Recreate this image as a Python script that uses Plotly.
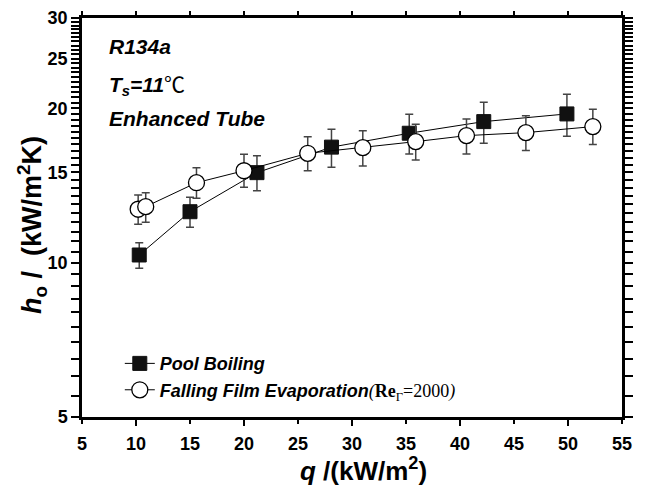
import numpy as np
import plotly.graph_objects as go

# ---- data ----
pool_q = [10.3, 15.0, 21.2, 28.1, 35.3, 42.2, 49.9]
pool_h = [10.35, 12.57, 14.98, 16.8, 17.88, 18.84, 19.5]
pool_err_plus = [0.59, 0.84, 1.19, 1.4, 1.59, 1.71, 1.8]
pool_err_minus = [0.6, 0.85, 1.17, 1.45, 1.59, 1.75, 1.86]

film_q = [10.2, 10.9, 15.6, 20.0, 25.9, 31.0, 35.9, 40.6, 46.1, 52.3]
film_h = [12.71, 12.86, 14.32, 15.11, 16.34, 16.76, 17.22, 17.69, 17.93, 18.42]
film_err_plus = [0.84, 0.83, 1.0, 1.16, 1.27, 1.33, 1.4, 1.37, 1.42, 1.5]
film_err_minus = [0.83, 0.87, 0.97, 1.08, 1.23, 1.32, 1.36, 1.4, 1.39, 1.43]

x_ticks = [5, 10, 15, 20, 25, 30, 35, 40, 45, 50, 55]
x_long_ticks = [10, 20, 30, 40, 50]
y_ticks = [5, 10, 15, 20, 25, 30]

FONT = "Arial, 'Liberation Sans', sans-serif"
ERRC = "#444444"

fig = go.Figure()

fig.add_trace(go.Scatter(
    x=pool_q, y=pool_h, mode="lines+markers",
    name="<b><i>Pool Boiling</i></b>",
    line=dict(color="black", width=1),
    marker=dict(symbol="square", size=14, color="#111111",
                line=dict(color="#111111", width=1)),
    error_y=dict(type="data", symmetric=False, array=pool_err_plus,
                 arrayminus=pool_err_minus, color=ERRC, thickness=1.5, width=4),
))

fig.add_trace(go.Scatter(
    x=film_q, y=film_h, mode="lines+markers",
    name=("<b><i>Falling Film Evaporation</i></b>"
          "<span style=\"font-family:'Liberation Serif',serif\"><i>(</i><b>Re</b>"
          "<sub>Γ</sub>=2000<i>)</i></span>"),
    line=dict(color="black", width=1),
    marker=dict(symbol="circle", size=16, color="white",
                line=dict(color="black", width=1.3)),
    error_y=dict(type="data", symmetric=False, array=film_err_plus,
                 arrayminus=film_err_minus, color=ERRC, thickness=1.5, width=4),
))

# invisible trace that anchors the long-tick overlay axis
fig.add_trace(go.Scatter(x=[x_ticks[0]], y=[y_ticks[0]], xaxis="x2",
                         mode="markers", marker=dict(opacity=0),
                         showlegend=False, hoverinfo="skip"))

minor_y = [v for v in np.arange(5.5, 30.0, 0.5) if v not in y_ticks]

fig.update_layout(
    width=648, height=490,
    margin=dict(l=82, r=26, t=18, b=73, autoexpand=False),
    paper_bgcolor="white", plot_bgcolor="white",
    font=dict(family=FONT, color="black"),
    showlegend=True,
    legend=dict(x=0.07, y=0.18, xanchor="left", yanchor="top",
                bgcolor="rgba(0,0,0,0)", font=dict(size=18, family=FONT),
                tracegroupgap=0, itemwidth=30),
    xaxis=dict(
        range=[5, 55], tickmode="array", tickvals=x_ticks,
        ticks="outside", ticklen=4, tickwidth=2, tickcolor="black",
        ticklabelstandoff=5, automargin=False,
        showline=True, linewidth=2.5, linecolor="black", mirror="allticks",
        showgrid=False, zeroline=False,
        tickfont=dict(size=18, family=FONT, weight="bold"),
    ),
    xaxis2=dict(
        range=[5, 55], overlaying="x", side="bottom", tickmode="array",
        tickvals=x_long_ticks, ticks="outside", ticklen=8, tickwidth=2,
        tickcolor="black", showticklabels=False, showline=False,
        showgrid=False, zeroline=False, automargin=False,
    ),
    yaxis=dict(
        type="log", range=[np.log10(5), np.log10(30)],
        tickmode="array", tickvals=y_ticks, ticktext=[str(v) for v in y_ticks],
        ticks="outside", ticklen=8, tickwidth=2, tickcolor="black",
        minor=dict(tickmode="array", tickvals=minor_y, ticks="outside",
                   ticklen=4, tickwidth=1.5, tickcolor="black"),
        showline=True, linewidth=2.5, linecolor="black", mirror="allticks",
        showgrid=False, zeroline=False, automargin=False,
        tickfont=dict(size=18, family=FONT, weight="bold"),
    ),
)

# axis titles as annotations
fig.add_annotation(xref="paper", yref="paper", x=-0.0926, y=0.481,
                   xanchor="center", yanchor="middle", showarrow=False,
                   textangle=-90,
                   text="<b><i>h</i><sub>o</sub> /&nbsp;&nbsp;(kW/m<sup>2</sup>K)</b>",
                   font=dict(size=27, family=FONT, color="black"))
fig.add_annotation(xref="paper", yref="paper", x=0.522, y=-0.131,
                   xanchor="center", yanchor="middle", showarrow=False,
                   text="<b><i>q</i> /(kW/m<sup>2</sup>)</b>",
                   font=dict(size=26, family=FONT, color="black"))

ann_font = dict(size=21, family=FONT, color="black")
fig.add_annotation(xref="paper", yref="paper", x=0.046, y=0.928,
                   xanchor="left", yanchor="middle", showarrow=False,
                   text="<b><i>R134a</i></b>", font=ann_font)
fig.add_annotation(xref="paper", yref="paper", x=0.046, y=0.837,
                   xanchor="left", yanchor="middle", showarrow=False,
                   text=("<b><i>T</i></b><sub><b><i>s</i></b></sub><b><i>=11</i></b>"
                         "<span style=\"font-family:'Noto Sans CJK SC'\">℃</span>"),
                   font=ann_font)
fig.add_annotation(xref="paper", yref="paper", x=0.046, y=0.749,
                   xanchor="left", yanchor="middle", showarrow=False,
                   text="<b><i>Enhanced Tube</i></b>", font=ann_font)

fig.write_html("out.html")
